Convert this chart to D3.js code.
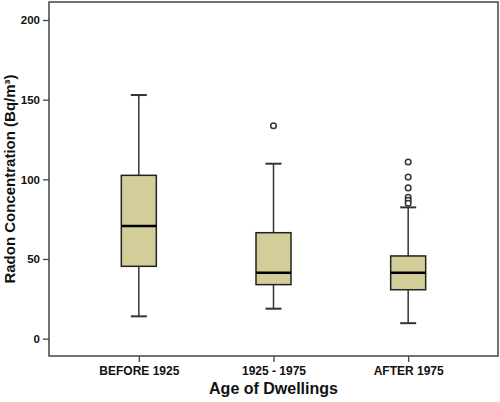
<!DOCTYPE html>
<html><head><meta charset="utf-8">
<script src="https://cdn.jsdelivr.net/npm/d3@7"></script>
<style>body{margin:0;background:#fff}svg{display:block}text{font-family:"Liberation Sans",Arial,sans-serif;font-weight:bold}</style>
</head><body><svg id="c" width="500" height="402"></svg>
<script>
const categories = ["BEFORE 1925", "1925 - 1975", "AFTER 1975"];
const whiskerLow = [14.0, 18.8, 9.7];
const q1 = [45.4, 33.9, 30.7];
const median = [70.7, 41.4, 41.4];
const q3 = [102.5, 66.5, 51.9];
const whiskerHigh = [152.9, 109.8, 82.4];
const outliers = [[], [133.6], [110.9, 101.4, 94.6, 88.7, 86.8, 85.0]];
const yTicks = [0, 50, 100, 150, 200];

const svg = d3.select("#c");
const L = 49, R = 498, T = 2, B = 356;
const y = d3.scaleLinear().domain([-10.9, 211.3]).range([B, T]);
const x = d3.scalePoint().domain(categories).range([L, R]).padding(0.667);
const boxW = 35, capW = 16;

// frame
svg.append("rect").attr("x", L).attr("y", T).attr("width", R - L).attr("height", B - T)
  .attr("fill", "none").attr("stroke", "#444").attr("stroke-width", 1.5);

// y axis
const yAxis = svg.append("g").attr("transform", `translate(${L},0)`)
  .call(d3.axisLeft(y).tickValues(yTicks).tickSize(6).tickPadding(3));
yAxis.select(".domain").remove();
yAxis.selectAll("line").attr("stroke", "#444").attr("stroke-width", 1.3);
yAxis.selectAll("text").attr("font-size", 11.5).attr("fill", "#111").attr("font-family", "Liberation Sans, Arial, sans-serif").attr("font-weight", "bold");

// x axis
const xAxis = svg.append("g").attr("transform", `translate(0,${B})`)
  .call(d3.axisBottom(x).tickSize(6).tickPadding(4));
xAxis.select(".domain").remove();
xAxis.selectAll("line").attr("stroke", "#444").attr("stroke-width", 1.3);
xAxis.selectAll("text").attr("font-size", 12).attr("fill", "#111").attr("font-family", "Liberation Sans, Arial, sans-serif").attr("font-weight", "bold");

// boxes
const data = categories.map((c, i) => ({c, lo: whiskerLow[i], q1: q1[i], med: median[i], q3: q3[i], hi: whiskerHigh[i], out: outliers[i]}));
const g = svg.append("g").selectAll("g").data(data).join("g")
  .attr("transform", d => `translate(${x(d.c)},0)`);
g.append("line").attr("x1", 0).attr("x2", 0).attr("y1", d => y(d.hi)).attr("y2", d => y(d.q3)).attr("stroke", "#333").attr("stroke-width", 1.5);
g.append("line").attr("x1", 0).attr("x2", 0).attr("y1", d => y(d.q1)).attr("y2", d => y(d.lo)).attr("stroke", "#333").attr("stroke-width", 1.5);
g.append("line").attr("x1", -capW / 2).attr("x2", capW / 2).attr("y1", d => y(d.hi)).attr("y2", d => y(d.hi)).attr("stroke", "#333").attr("stroke-width", 2);
g.append("line").attr("x1", -capW / 2).attr("x2", capW / 2).attr("y1", d => y(d.lo)).attr("y2", d => y(d.lo)).attr("stroke", "#333").attr("stroke-width", 2);
g.append("rect").attr("x", -boxW / 2).attr("width", boxW).attr("y", d => y(d.q3)).attr("height", d => y(d.q1) - y(d.q3))
  .attr("fill", "#d3ce99").attr("stroke", "#222").attr("stroke-width", 1.5);
g.append("line").attr("x1", -boxW / 2).attr("x2", boxW / 2).attr("y1", d => y(d.med)).attr("y2", d => y(d.med)).attr("stroke", "#000").attr("stroke-width", 2.5);
g.selectAll("circle").data(d => d.out).join("circle").attr("cx", 0).attr("cy", v => y(v)).attr("r", 2.8)
  .attr("fill", "#fff").attr("stroke", "#333").attr("stroke-width", 1.5);

// axis titles
svg.append("text").attr("x", x(categories[1])).attr("y", 394).attr("text-anchor", "middle").attr("font-size", 16).attr("fill", "#111").text("Age of Dwellings");
svg.append("text").attr("transform", `translate(15,179) rotate(-90)`).attr("text-anchor", "middle").attr("font-size", 15).attr("fill", "#111")
  .text("Radon Concentration (Bq/m³)");
</script></body></html>
